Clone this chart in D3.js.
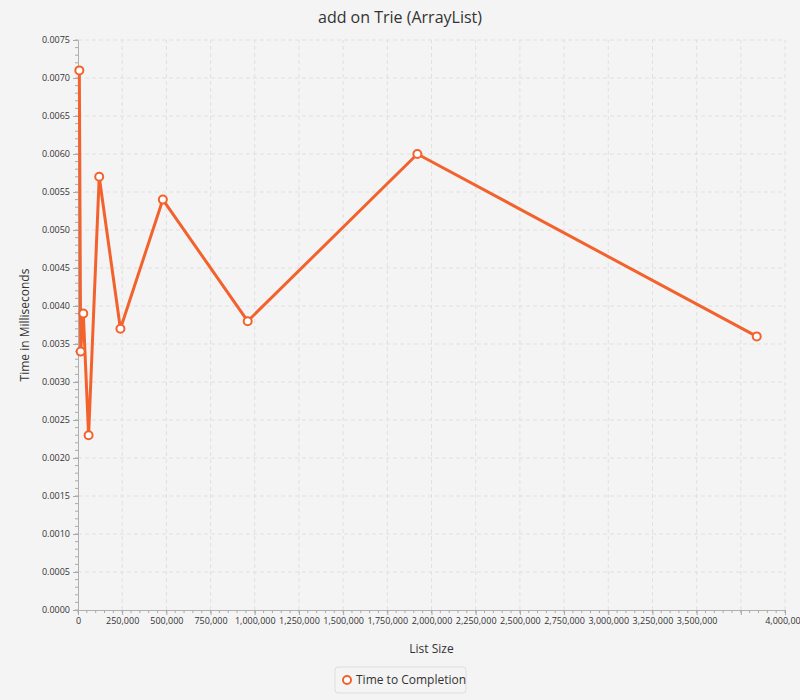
<!DOCTYPE html>
<html>
<head>
<meta charset="utf-8">
<script src="https://cdn.jsdelivr.net/npm/d3@7"></script>
<style>
  body { margin: 0; background: #f4f4f4; }
  text { font-family: "Open Sans", "DejaVu Sans", sans-serif; }
</style>
</head>
<body>
<svg id="chart" width="800" height="700"></svg>
<script>
const listSizes = [7500, 15000, 30000, 60000, 120000, 240000, 480000, 960000, 1920000, 3840000];
const times = [0.0071, 0.0034, 0.0039, 0.0023, 0.0057, 0.0037, 0.0054, 0.0038, 0.0060, 0.0036];
const seriesName = "Time to Completion";
const color = "#f3622d";

const svg = d3.select("#chart");
const margin = { left: 78, right: 15, top: 40, bottom: 90 };
const W = 800, H = 700;

const x = d3.scaleLinear().domain([0, 4000000]).range([margin.left, W - margin.right]);
const y = d3.scaleLinear().domain([0, 0.0075]).range([H - margin.bottom, margin.top]);

const xTicks = d3.range(0, 4000001, 250000);
const yTicks = d3.range(0, 16).map(i => i * 0.0005);

// plot background
svg.append("rect").attr("x", x(0)).attr("y", y(0.0075))
  .attr("width", x(4000000) - x(0)).attr("height", y(0) - y(0.0075)).attr("fill", "#f4f4f4");

// grid
svg.append("g").selectAll("line").data(xTicks.slice(1)).join("line")
  .attr("x1", d => x(d)).attr("x2", d => x(d)).attr("y1", y(0)).attr("y2", y(0.0075))
  .attr("stroke", "#e0e0e0").attr("stroke-dasharray", "4,3");
svg.append("g").selectAll("line").data(yTicks.slice(1)).join("line")
  .attr("x1", x(0)).attr("x2", x(4000000)).attr("y1", d => y(d)).attr("y2", d => y(d))
  .attr("stroke", "#e0e0e0").attr("stroke-dasharray", "4,3");

// axes
const fmtX = d3.format(",");
const xAxis = svg.append("g").attr("transform", `translate(0,${y(0)})`)
  .call(d3.axisBottom(x).tickValues(xTicks).tickFormat(d => d === 3750000 ? "" : fmtX(d)).tickSize(5));
const xMinor = d3.range(0, 4000001, 50000);
xAxis.append("g").selectAll("line").data(xMinor).join("line")
  .attr("x1", d => x(d)).attr("x2", d => x(d)).attr("y1", 0).attr("y2", 3).attr("stroke", "#aaa");

const yAxis = svg.append("g").attr("transform", `translate(${x(0)},0)`)
  .call(d3.axisLeft(y).tickValues(yTicks).tickFormat(d3.format(".4f")).tickSize(5));
const yMinor = d3.range(0, 76).map(i => i * 0.0001);
yAxis.append("g").selectAll("line").data(yMinor).join("line")
  .attr("x1", 0).attr("x2", -3).attr("y1", d => y(d)).attr("y2", d => y(d)).attr("stroke", "#aaa");

[xAxis, yAxis].forEach(a => {
  a.select(".domain").attr("stroke", "#b0b0b0");
  a.selectAll(".tick line").attr("stroke", "#aaa");
  a.selectAll(".tick text").attr("fill", "#333").attr("font-size", 9);
});

// line
const pts = listSizes.map((d, i) => [d, times[i]]);
svg.append("path").datum(pts)
  .attr("fill", "none").attr("stroke", color).attr("stroke-width", 3)
  .attr("d", d3.line().x(d => x(d[0])).y(d => y(d[1])));
svg.append("g").selectAll("circle").data(pts).join("circle")
  .attr("cx", d => x(d[0])).attr("cy", d => y(d[1])).attr("r", 4)
  .attr("fill", "#fff").attr("stroke", color).attr("stroke-width", 2);

// titles
svg.append("text").attr("x", W / 2).attr("y", 23).attr("text-anchor", "middle")
  .attr("font-size", 16).attr("fill", "#333").text("add on Trie (ArrayList)");
svg.append("text").attr("x", (x(0) + x(4000000)) / 2).attr("y", 653).attr("text-anchor", "middle")
  .attr("font-size", 12).attr("fill", "#333").text("List Size");
svg.append("text").attr("transform", `translate(29,${(y(0) + y(0.0075)) / 2}) rotate(-90)`)
  .attr("text-anchor", "middle").attr("font-size", 12).attr("fill", "#333").text("Time in Milliseconds");

// legend
const lg = svg.append("g").attr("transform", "translate(335,667)");
lg.append("rect").attr("width", 131).attr("height", 26).attr("rx", 3)
  .attr("fill", "#f4f4f4").attr("stroke", "#ddd");
lg.append("circle").attr("cx", 12).attr("cy", 13).attr("r", 4)
  .attr("fill", "#fff").attr("stroke", color).attr("stroke-width", 2);
lg.append("text").attr("x", 21).attr("y", 17).attr("font-size", 12).attr("fill", "#333").text(seriesName);
</script>
</body>
</html>
